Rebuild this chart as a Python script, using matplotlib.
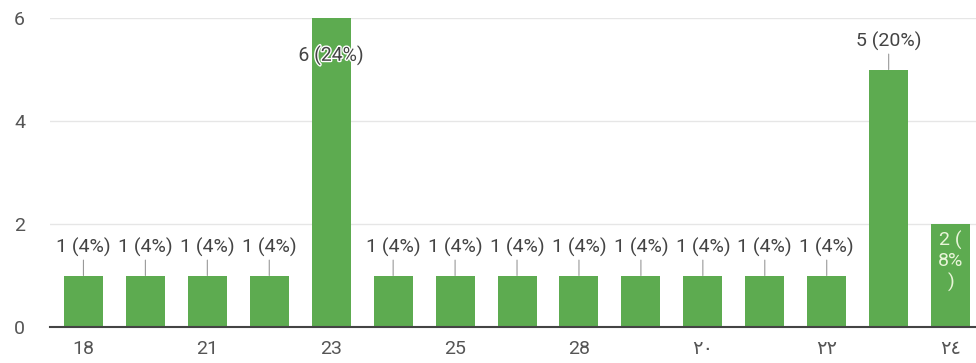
import matplotlib.pyplot as plt
from matplotlib import patheffects as pe
import numpy as np

# categories as answered (only every other one is labelled on the axis)
ages = ['18', '20', '21', '22', '23', '24', '25', '27', '28', '30',
        '٢٠', '٢١', '٢٢', '٢٣', '٢٤']
counts = [1, 1, 1, 1, 6, 1, 1, 1, 1, 1, 1, 1, 1, 5, 2]
total = 25

green = '#5dab50'
plt.rcParams['font.family'] = ['Roboto', 'DejaVu Sans']

fig = plt.figure(figsize=(9.76, 3.63), dpi=100)
ax = fig.add_axes([50 / 976, 36 / 363, 1 - 50 / 976, 309 / 363])

x = np.arange(len(ages))
ax.bar(x, counts, width=0.63, color=green, zorder=2)

fs = 14
for i, c in enumerate(counts):
    pct = round(100 * c / total)
    if c == max(counts):
        ax.annotate('%d (%d%%)' % (c, pct), xy=(i, c), xytext=(0, -27),
                    textcoords='offset points', ha='center', va='center',
                    fontsize=fs, color='#444444', zorder=3,
                    path_effects=[pe.withStroke(linewidth=2, foreground='white')])
    elif c == 2:
        ax.annotate('%d (\n%d%%\n)' % (c, pct), xy=(i, c), xytext=(0, -27),
                    textcoords='offset points', ha='center', va='center',
                    fontsize=fs, color='#e8f5d8', linespacing=1.15, zorder=3)
    else:
        ax.annotate('%d (%d%%)' % (c, pct), xy=(i, c), xytext=(0, 20),
                    textcoords='offset points', ha='center', va='center',
                    fontsize=fs, color='#444444', zorder=3,
                    arrowprops=dict(arrowstyle='-', color='#999999', lw=0.8,
                                    shrinkA=0, shrinkB=0))

ax.set_xlim(-0.54, 14.41)
ax.set_ylim(0, 6)
ax.set_yticks([0, 2, 4, 6])
ax.set_xticks(x[::2])
ax.set_xticklabels(ages[::2])
ax.tick_params(length=0, labelsize=fs, labelcolor='#555555')
ax.tick_params(axis='y', pad=18)
ax.tick_params(axis='x', pad=9)
ax.grid(axis='y', color='#e6e6e6', lw=1, zorder=0)
for s in ['top', 'right', 'left']:
    ax.spines[s].set_visible(False)
ax.spines['bottom'].set_color('#444444')
ax.spines['bottom'].set_linewidth(1.5)
ax.spines['bottom'].set_zorder(4)

fig.savefig('out.png', dpi=100)
